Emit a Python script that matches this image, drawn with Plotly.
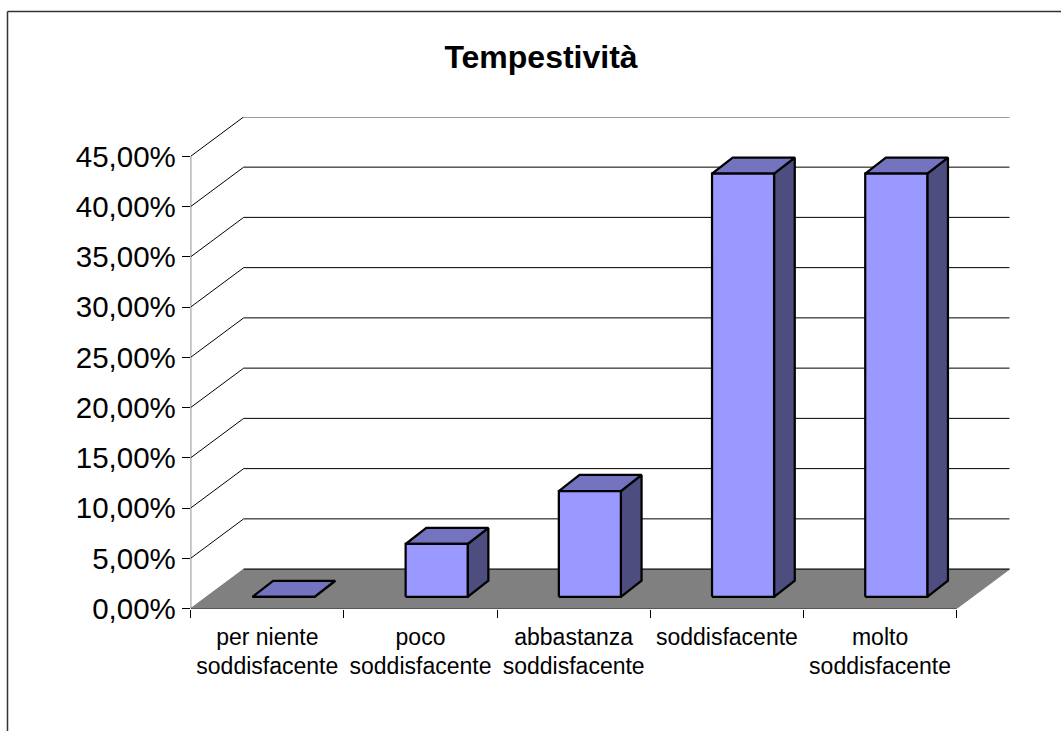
import plotly.graph_objects as go

categories = ["per niente<br>soddisfacente", "poco<br>soddisfacente", "abbastanza<br>soddisfacente",
              "soddisfacente", "molto<br>soddisfacente"]
values = [0, 5.26, 10.53, 42.11, 42.11]
y_ticks = [0, 5, 10, 15, 20, 25, 30, 35, 40, 45]
y_labels = ["0,00%", "5,00%", "10,00%", "15,00%", "20,00%", "25,00%", "30,00%", "35,00%", "40,00%", "45,00%"]

# fake 3d: depth of the whole floor, in axis units
DX = 0.346
DY = 3.92
BAR_W = 0.405
# the bar sits in the middle of the floor depth
BAR_DX = 0.135
BAR_DY = 1.6
OFF_DX = (DX - BAR_DX) / 2
OFF_DY = (DY - BAR_DY) / 2

fig = go.Figure()


def poly(xs, ys, fill, line_color, width):
    fig.add_trace(go.Scatter(x=xs, y=ys, mode="lines", fill="toself", fillcolor=fill,
                             line=dict(color=line_color, width=width), cliponaxis=False,
                             hoverinfo="skip", showlegend=False))


def lines(xs, ys, width=1):
    fig.add_trace(go.Scatter(x=xs, y=ys, mode="lines", line=dict(color="black", width=width),
                             cliponaxis=False, hoverinfo="skip", showlegend=False))


n = len(categories)

# floor
poly([0, n, n + DX, DX, 0], [0, 0, DY, DY, 0], "#808080", "#808080", 1)
lines([0, n], [0, 0])
lines([DX, n + DX], [DY, DY])

# walls: left axis and gridlines
lines([0, 0], [0, y_ticks[-1]])
gx, gy = [], []
for t in y_ticks[1:]:
    gx += [0, DX, n + DX, None]
    gy += [t, t + DY, t + DY, None]
lines(gx, gy)

# bars
for i, v in enumerate(values):
    x0 = i + 0.5 - BAR_W / 2 + OFF_DX
    x1 = x0 + BAR_W
    y0 = OFF_DY
    y1 = OFF_DY + v
    poly([x1, x1 + BAR_DX, x1 + BAR_DX, x1, x1], [y0, y0 + BAR_DY, y1 + BAR_DY, y1, y0], "#4D4D80", "black", 2.25)
    poly([x0, x1, x1 + BAR_DX, x0 + BAR_DX, x0], [y1, y1, y1 + BAR_DY, y1 + BAR_DY, y1], "#7373BF", "black", 2.25)
    poly([x0, x1, x1, x0, x0], [y0, y0, y1, y1, y0], "#9999FF", "black", 2.25)

W = 1061
H = 731
fig.update_layout(
    width=W, height=H,
    margin=dict(l=0, r=0, t=0, b=0),
    paper_bgcolor="white", plot_bgcolor="white",
    showlegend=False,
    font=dict(family="Liberation Sans", color="black"),
    title=dict(text="<b>Tempestività</b>", x=541 / W, y=1 - 57 / H, xanchor="center", yanchor="middle",
               xref="paper", yref="paper", font=dict(size=32, family="Liberation Sans", color="black")),
    shapes=[dict(type="line", xref="paper", yref="paper", x0=7.5 / W, x1=1, y0=1 - 11.5 / H, y1=1 - 11.5 / H,
                 line=dict(color="#333333", width=1.5)),
            dict(type="line", xref="paper", yref="paper", x0=7.5 / W, x1=7.5 / W, y0=0, y1=1 - 11.5 / H,
                 line=dict(color="#333333", width=1.5))],
)
fig.update_xaxes(
    automargin=False,
    domain=[190.7 / W, (956.7 + 53) / W], range=[0, n + DX],
    tickvals=[i + 0.5 for i in range(n)], ticktext=categories,
    tickfont=dict(size=23, family="Liberation Sans", color="black"),
    ticks="", showgrid=False, zeroline=False, showline=False, ticklabelstandoff=12,
    minor=dict(ticks="outside", ticklen=8, tickcolor="black", tickwidth=1, tick0=0, dtick=1, showgrid=False),
)
fig.update_yaxes(
    automargin=False,
    domain=[1 - 608.5 / H, 1 - 116.9 / H], range=[0, y_ticks[-1] + DY],
    tickvals=y_ticks, ticktext=y_labels,
    tickfont=dict(size=29.5, family="Liberation Sans", color="black"),
    ticks="outside", ticklen=8, tickcolor="black", tickwidth=1,
    showgrid=False, zeroline=False, showline=False,
)

# page default margin would push the chart 8px off
fig.write_html("out.html", post_script="document.body.style.margin='0';", config=dict(displayModeBar=False))
